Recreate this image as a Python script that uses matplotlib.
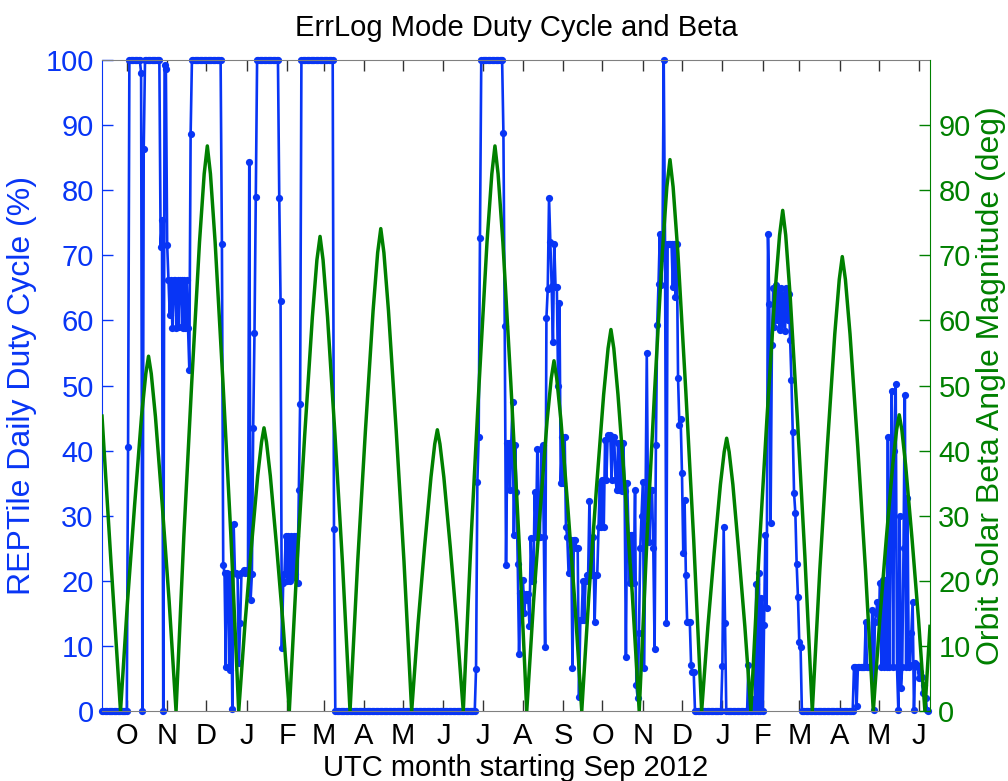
import numpy as np
import matplotlib.pyplot as plt

plt.rcParams['font.family'] = ['Liberation Sans', 'DejaVu Sans']

BLUE = '#0835f5'
GREEN = '#008000'

# x axis: days since 1 Sep 2012
month_days = [30, 61, 91, 122, 153, 181, 212, 242, 273, 303, 334,
              365, 395, 426, 456, 487, 518, 546, 577, 607, 638]
month_labels = ['O', 'N', 'D', 'J', 'F', 'M', 'A', 'M', 'J', 'J', 'A',
                'S', 'O', 'N', 'D', 'J', 'F', 'M', 'A', 'M', 'J']

# daily REPTile duty cycle (%), first value is day 11
first_day = 11
duty = (
    [0] * 20
    + [40.6] + [100] * 9 + [98.0, 0, 86.3]
    + [100] * 12
    + [71.3, 75.4, 0, 99.2, 98.6, 71.6]
    + [66.2, 60.8, 66.2, 58.9, 66.2, 66.2, 58.9, 66.2, 59.0, 66.2, 66.2, 58.9, 66.2, 58.9, 66.2, 58.9]
    + [52.4, 88.7] + [100] * 23 + [71.7]
    + [22.4, 21.2, 6.8, 21.2, 20.9, 6.3, 21.0, 0.3, 28.7, 21.2,
       21.2, 20.9, 7.3, 13.5, 21.2, 21.4, 21.7, 21.2, 21.7, 21.2]
    + [84.3, 17.0, 21.0, 43.5, 58.1, 79.0]
    + [100] * 17 + [78.8, 63.0, 9.7]
    + [19.6, 21.0, 26.9, 20.0, 26.9, 19.9, 26.9, 20.5, 26.9, 21.0, 26.9, 19.6, 34.0, 47.2]
    + [100] * 25 + [27.9]
    + [0] * 108
    + [6.5, 35.2, 42.1, 72.6] + [100] * 17 + [88.8, 59.2]
    + [22.5, 41.1, 41.1, 34.0, 41.0, 47.4, 27.0, 40.9, 33.7, 22.6,
       8.7, 18.1, 18.1, 20.1, 15.0, 18.0, 17.0, 18.0, 13.0, 26.5,
       19.9, 19.9, 33.7, 26.8, 40.2, 26.8, 26.8, 40.2, 40.8, 26.8,
       9.9, 60.4, 64.8, 78.8, 72.1, 65.3, 56.7, 71.8, 65.1, 65.1,
       49.9, 62.7]
    + [35.0, 42.1, 35.0, 42.1, 28.3, 26.8, 21.2, 21.2, 26.3, 6.6,
       26.3, 26.3, 25.0, 25.0, 2.2, 14.0, 14.0, 20.0, 14.0, 19.9,
       20.9, 20.9, 32.2, 20.9, 20.9, 26.8, 13.7, 20.9, 20.9, 28.3,
       35.0, 28.3, 35.5, 28.3, 41.6, 35.5, 42.4, 42.0, 42.4, 35.5,
       41.6, 42.1, 35.5, 34.0, 41.1, 34.0, 41.1, 33.8, 41.1, 33.8,
       8.3, 35.0, 27.0, 19.6, 27.0, 27.0, 19.6, 34.0, 4.0, 2.0,
       12.0, 25.0, 30.0, 35.2, 6.6, 30.0, 55.0, 30.0, 26.0, 34.0,
       34.0, 25.0, 9.6, 40.9, 59.3, 65.6, 73.2, 65.4, 69.6, 100,
       71.8, 13.5, 71.8, 71.8, 71.8, 71.8, 65.1, 71.8, 63.6, 71.8,
       51.2, 43.9, 44.8, 36.6, 24.2, 32.4, 20.9, 13.7, 13.7, 13.7,
       7.1, 6.0, 6.0]
    + [0] * 21 + [6.9, 28.2, 13.5] + [0] * 17
    + [7.1, 0, 0, 0, 1.9, 0, 19.5, 0, 21.2, 0, 17.3, 0, 13.2, 27.0, 15.8, 73.2, 62.5, 28.9]
    + [56.2, 65.0, 59.0, 65.4, 60.0, 64.5, 58.5, 65.0, 59.5, 64.0, 58.3, 65.0, 60.0, 64.0, 57.0]
    + [50.8, 42.9, 33.5, 30.4, 22.6, 17.5, 10.6, 9.9]
    + [0] * 40
    + [6.8, 6.8, 0.7, 6.8, 6.8, 6.8, 6.8, 6.8, 6.8, 13.7,
       6.8, 6.8, 6.8, 6.8, 15.5, 0.2, 13.7, 15.0, 16.8, 13.7,
       19.6, 6.8, 20.2, 6.8, 20.1, 6.8, 42.1, 6.8, 30.0, 49.1,
       6.8, 40.0, 50.3, 6.8, 0.2, 30.0, 3.5, 6.8, 25.0, 48.5,
       6.8, 32.7, 6.8, 7.0, 12.0, 16.8, 0.2, 7.3, 7.1, 6.8,
       5.0, 6.0, 5.3, 2.7, 4.0, 2.0, 0.2, 0]
)
days = first_day + np.arange(len(duty))

# orbit solar beta angle magnitude (deg)
beta_days = [11, 18, 25.2,
             30.6, 36.0, 41.3, 44.6, 46.7, 48.8, 52.0, 57.25, 62.5, 67.8,
             73.8, 79.8, 85.8, 89.4, 91.8, 94.2, 97.8, 103.85, 109.9, 115.9,
             120.75, 125.6, 130.45, 133.4, 135.3, 137.2, 140.15, 145.0, 149.85, 154.7,
             160.6, 166.5, 172.4, 175.9, 178.3, 180.6, 184.05, 189.8, 195.55, 201.3,
             207.2, 213.1, 219.0, 222.5, 224.9, 227.3, 230.8, 236.75, 242.7, 248.6,
             253.5, 258.45, 263.4, 266.3, 268.3, 270.3, 273.3, 278.25, 283.2, 288.2,
             294.3, 300.35, 306.4, 310.1, 312.5, 314.9, 318.6, 324.7, 330.8, 336.9,
             342.1, 347.35, 352.55, 355.7, 357.8, 359.9, 363.1, 368.45, 373.8, 379.1,
             384.7, 390.3, 395.9, 399.3, 401.5, 403.7, 406.9, 412.35, 417.8, 423.2,
             429.1, 435.0, 440.9, 444.4, 446.8, 449.2, 452.9, 458.95, 465.0, 471.1,
             475.9, 480.7, 485.5, 488.4, 490.3, 492.2, 495.05, 499.6, 504.25, 508.9,
             515.0, 521.1, 527.2, 530.9, 533.3, 535.6, 539.0, 544.65, 550.3, 556.0,
             561.75, 567.5, 573.25, 576.7, 579.0, 581.4, 584.95, 590.9, 596.85, 602.8,
             607.8, 612.75, 617.7, 620.7, 622.7, 624.7, 627.6, 632.55, 637.5, 642.4,
             646.3]
beta_vals = [45.3, 22.5, 0,
             16.9, 31.6, 45.2, 51.8, 54.5, 51.8, 45.2, 31.6, 16.9, 0,
             26.9, 50.3, 72.0, 82.5, 86.8, 82.5, 72.0, 50.3, 26.9, 0,
             13.5, 25.2, 36.1, 41.3, 43.5, 41.3, 36.1, 25.2, 13.5, 0,
             22.6, 42.3, 60.5, 69.3, 72.9, 69.3, 60.5, 42.3, 22.6, 0,
             23.0, 43.0, 61.5, 70.4, 74.1, 70.4, 61.5, 43.0, 23.0, 0,
             13.4, 25.1, 35.9, 41.0, 43.2, 41.0, 35.9, 25.1, 13.4, 0,
             26.9, 50.3, 72.0, 82.5, 86.8, 82.5, 72.0, 50.3, 26.9, 0,
             16.7, 31.2, 44.7, 51.1, 53.8, 51.1, 44.7, 31.2, 16.7, 0,
             18.2, 34.0, 48.6, 55.7, 58.6, 55.7, 48.6, 34.0, 18.2, 0,
             26.3, 49.1, 70.3, 80.5, 84.7, 80.5, 70.3, 49.1, 26.3, 0,
             13.0, 24.3, 34.8, 39.8, 41.9, 39.8, 34.8, 24.3, 13.0, 0,
             23.8, 44.6, 63.8, 73.1, 76.9, 73.1, 63.8, 44.6, 23.8, 0,
             21.6, 40.5, 57.9, 66.3, 69.8, 66.3, 57.9, 40.5, 21.6, 0,
             14.1, 26.4, 37.8, 43.2, 45.5, 43.2, 37.8, 26.4, 14.1, 0,
             13.0]

fig = plt.figure(figsize=(10.08, 7.81), dpi=100)
ax = fig.add_axes([0.1012, 0.0896, 0.8214, 0.8336])
ax2 = ax.twinx()

ax.plot(days, duty, '-', color=BLUE, lw=1.9, marker='o', ms=5.2, mec='none', clip_on=False)
ax2.plot(beta_days, beta_vals, '-', color=GREEN, lw=2.5)

ax.set_xlim(11, 646.3)
ax.set_ylim(0, 100)
ax2.set_ylim(0, 100)

ax.set_xticks(month_days)
ax.set_xticklabels(month_labels)
ax.set_yticks(range(0, 101, 10))
ax2.set_yticks(range(0, 91, 10))

ax.tick_params(axis='x', direction='in', top=True, length=8, width=1,
               color='#333333', labelcolor='black', labelsize=21, pad=8)
ax.tick_params(axis='y', direction='in', length=8, width=1,
               color=BLUE, labelcolor=BLUE, labelsize=21, pad=6)
ax2.tick_params(axis='y', direction='in', length=8, width=1,
                color=GREEN, labelcolor=GREEN, labelsize=21, pad=6)

for s in ['top', 'bottom']:
    ax.spines[s].set_color('#808080')
ax.spines['left'].set_color(BLUE)
ax.spines['right'].set_visible(False)
for s in ['top', 'bottom', 'left']:
    ax2.spines[s].set_visible(False)
ax2.spines['right'].set_color(GREEN)

ax.set_title('ErrLog Mode Duty Cycle and Beta', fontsize=21, pad=17)
ax.set_xlabel('UTC month starting Sep 2012', fontsize=21, labelpad=3)
ax.set_ylabel('REPTile Daily Duty Cycle (%)', color=BLUE, fontsize=23, labelpad=6)
ax2.set_ylabel('Orbit Solar Beta Angle Magnitude (deg)', color=GREEN, fontsize=23, labelpad=4)

fig.savefig('out.png', dpi=100)
